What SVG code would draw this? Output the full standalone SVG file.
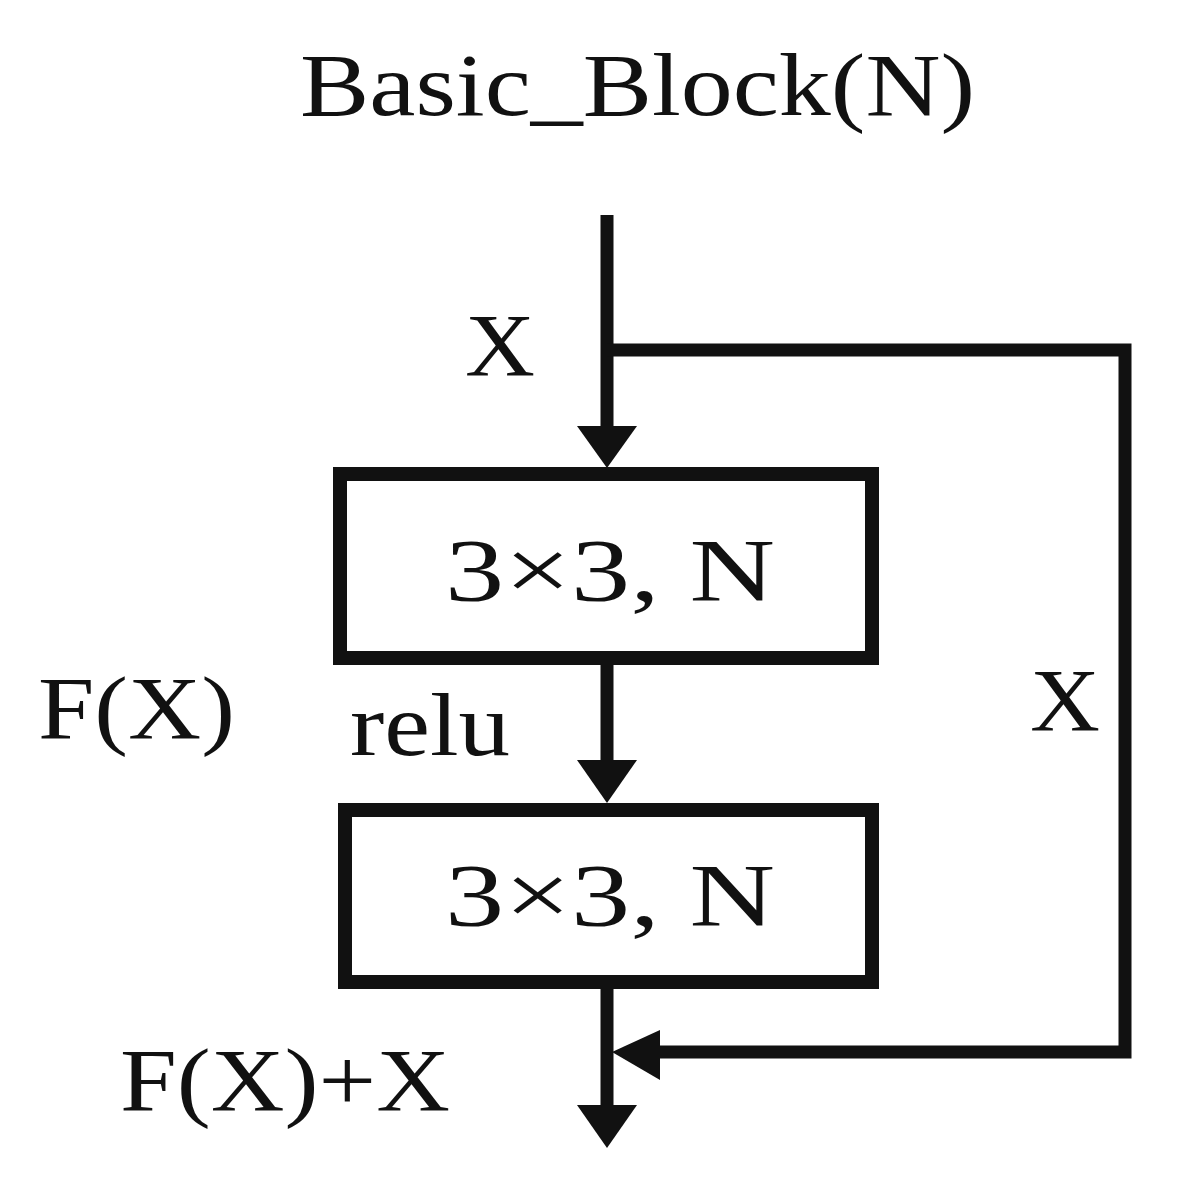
<svg xmlns="http://www.w3.org/2000/svg" width="1182" height="1186" viewBox="0 0 1182 1186">
<style>
text{font-family:"Liberation Serif","Times New Roman",serif;fill:#111;font-size:88px}
.ln{stroke:#111;stroke-width:13;fill:none}
.box{stroke:#111;stroke-width:14;fill:#fff}
.ah{fill:#111}
</style>
<rect width="1182" height="1186" fill="#fff"/>
<text x="300" y="115" textLength="675" lengthAdjust="spacingAndGlyphs" font-size="92">Basic_Block(N)</text>
<g id="connectors">
<line class="ln" x1="607" y1="215" x2="607" y2="430"/>
<polygon class="ah" points="577,426 637,426 607,468"/>
<polyline class="ln" points="607,350 1125,350 1125,1052 650,1052"/>
<line class="ln" x1="607" y1="658" x2="607" y2="765"/>
<polygon class="ah" points="577,760 637,760 607,803"/>
<line class="ln" x1="607" y1="982" x2="607" y2="1110"/>
<polygon class="ah" points="577,1105 637,1105 607,1148"/>
<polygon class="ah" points="660,1030 660,1080 612,1052"/>
</g>
<g id="box1"><rect class="box" x="340" y="474" width="532" height="184"/><text x="445" y="600" textLength="330" lengthAdjust="spacingAndGlyphs">3×3,  N</text></g>
<g id="box2"><rect class="box" x="345" y="810" width="527" height="172"/><text x="445" y="925" textLength="330" lengthAdjust="spacingAndGlyphs">3×3,  N</text></g>
<g id="labels">
<text x="465" y="375" textLength="70" lengthAdjust="spacingAndGlyphs">X</text>
<text x="38" y="738" textLength="197" lengthAdjust="spacingAndGlyphs">F(X)</text>
<text x="350" y="755" textLength="160" lengthAdjust="spacingAndGlyphs">relu</text>
<text x="1030" y="730" textLength="70" lengthAdjust="spacingAndGlyphs">X</text>
<text x="120" y="1110" textLength="330" lengthAdjust="spacingAndGlyphs">F(X)+X</text>
</g>
</svg>
